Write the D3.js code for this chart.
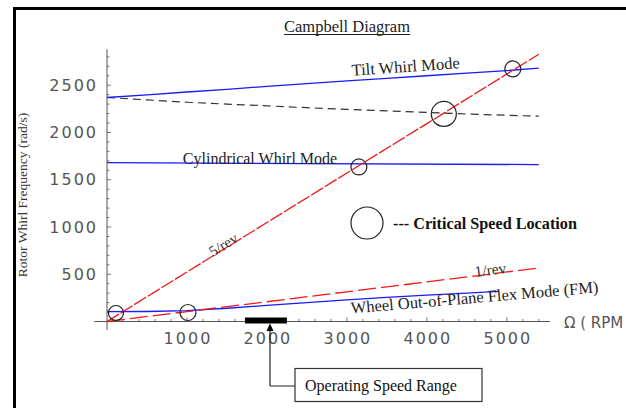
<!DOCTYPE html>
<html>
<head>
<meta charset="utf-8">
<script src="https://cdn.jsdelivr.net/npm/d3@7"></script>
<style>
  body { margin: 0; background: #fff; }
  svg { display: block; }
</style>
</head>
<body>
<svg id="chart" width="626" height="408"></svg>
<script>
// speeds (RPM) and modes (rad/s)
const rpm = [0, 500, 1000, 1500, 2000, 2500, 3000, 3500, 4000, 4500, 5000, 5400];
const tiltFwd = [2370, 2398, 2428, 2457, 2487, 2516, 2545, 2572, 2600, 2628, 2655, 2680];
const tiltBwd = [2370, 2345, 2320, 2300, 2282, 2262, 2245, 2228, 2212, 2195, 2182, 2172];
const cylRpm = [0, 5400];
const cylWhirl = [1680, 1660];
const flexRpm = [0, 500, 1000, 1500, 2000, 2500, 3000, 3500, 4000, 4500, 4900];
const flexMode = [105, 106, 115, 140, 170, 200, 228, 255, 278, 300, 318];
const excRpm = [0, 1000, 2000, 3000, 4000, 5000, 5400];
const rev5 = [0, 524, 1047, 1571, 2094, 2618, 2827];
const rev1 = [0, 105, 209, 314, 419, 524, 565];
const critRpm = [112, 1012, 3150, 4212, 5075];
const critVal = [90, 95, 1635, 2196, 2672];
const critR = [7.5, 8, 8, 12.5, 8];
const opRange = [1725, 2250];
const xTicks = [1000, 2000, 3000, 4000, 5000];
const yTicks = [500, 1000, 1500, 2000, 2500];

const svg = d3.select('#chart');

const x = d3.scaleLinear().domain([0, 5540]).range([107, 550]);
const y = d3.scaleLinear().domain([0, 2880]).range([321.5, 49.3]);

// frame
svg.append('line').attr('x1', 13).attr('x2', 626).attr('y1', 8.5).attr('y2', 8.5)
  .attr('stroke', '#000').attr('stroke-width', 3);
svg.append('line').attr('x1', 14.5).attr('x2', 14.5).attr('y1', 7).attr('y2', 408)
  .attr('stroke', '#000').attr('stroke-width', 3);

// axes (Mathematica style, ticks on the inside)
const axisCol = '#555';
svg.append('line').attr('x1', x(-160)).attr('x2', x(5540)).attr('y1', y(0)).attr('y2', y(0))
  .attr('stroke', axisCol).attr('stroke-width', 1);
svg.append('line').attr('x1', x(0)).attr('x2', x(0)).attr('y1', y(-90)).attr('y2', y(2880))
  .attr('stroke', axisCol).attr('stroke-width', 1);

d3.range(200, 5540, 200).forEach(v => {
  const major = v % 1000 === 0;
  svg.append('line').attr('x1', x(v)).attr('x2', x(v))
    .attr('y1', y(0)).attr('y2', y(0) - (major ? 4 : 2.5))
    .attr('stroke', axisCol).attr('stroke-width', 0.8);
});
d3.range(100, 2880, 100).forEach(v => {
  const major = v % 500 === 0;
  svg.append('line').attr('x1', x(0)).attr('x2', x(0) + (major ? 4 : 2.5))
    .attr('y1', y(v)).attr('y2', y(v))
    .attr('stroke', axisCol).attr('stroke-width', 0.8);
});

const tickFont = '"DejaVu Sans", sans-serif';
svg.selectAll('.ylab').data(yTicks).enter().append('text')
  .attr('x', 98).attr('y', d => y(d)).attr('dy', '0.36em')
  .attr('text-anchor', 'end')
  .style('font-family', tickFont).style('font-size', '16px')
  .style('letter-spacing', '2px').attr('fill', '#555')
  .text(d => d);

svg.selectAll('.xlab').data(xTicks).enter().append('text')
  .attr('x', d => x(d) + 1).attr('y', 338.5).attr('dy', '0.36em')
  .attr('text-anchor', 'middle')
  .style('font-family', tickFont).style('font-size', '16px')
  .style('letter-spacing', '2px').attr('fill', '#555')
  .text(d => d);

svg.append('text').attr('x', 564).attr('y', 323).attr('dy', '0.36em')
  .style('font-family', tickFont).style('font-size', '15px')
  .attr('fill', '#555')
  .text('\u03A9 ( RPM');

// y axis title
svg.append('text')
  .attr('transform', 'translate(27,195) rotate(-90)')
  .attr('text-anchor', 'middle')
  .style('font-family', '"Liberation Serif", serif').style('font-size', '13.5px')
  .attr('fill', '#333')
  .text('Rotor Whirl Frequency (rad/s)');

// title, underlined
const title = svg.append('text').attr('x', 347).attr('y', 32)
  .attr('text-anchor', 'middle')
  .style('font-family', '"Liberation Serif", serif').style('font-size', '16.5px')
  .attr('fill', '#222')
  .text('Campbell Diagram');
const tw = title.node().getComputedTextLength();
svg.append('line').attr('x1', 347 - tw / 2).attr('x2', 347 + tw / 2)
  .attr('y1', 34.5).attr('y2', 34.5).attr('stroke', '#222').attr('stroke-width', 1);

// mode lines
const line = d3.line().x(d => x(d[0])).y(d => y(d[1]));
const zip = (a, b) => a.map((v, i) => [v, b[i]]);

svg.append('path').attr('d', line(zip(rpm, tiltBwd)))
  .attr('fill', 'none').attr('stroke', '#333').attr('stroke-width', 1.2)
  .attr('stroke-dasharray', '8,5');
svg.append('path').attr('d', line(zip(rpm, tiltFwd)))
  .attr('fill', 'none').attr('stroke', '#1a1aff').attr('stroke-width', 1.3);
svg.append('path').attr('d', line(zip(cylRpm, cylWhirl)))
  .attr('fill', 'none').attr('stroke', '#1a1aff').attr('stroke-width', 1.3);
svg.append('path').attr('d', line(zip(flexRpm, flexMode)))
  .attr('fill', 'none').attr('stroke', '#1a1aff').attr('stroke-width', 1.3);

// excitation lines
svg.append('path').attr('d', line(zip(excRpm, rev1)))
  .attr('fill', 'none').attr('stroke', '#f01818').attr('stroke-width', 1.3)
  .attr('stroke-dasharray', '18,5');
svg.append('path').attr('d', line(zip(excRpm, rev5)))
  .attr('fill', 'none').attr('stroke', '#f01818').attr('stroke-width', 1.3)
  .attr('stroke-dasharray', '14,2');

// critical speed circles
svg.selectAll('.crit').data(critRpm).enter().append('circle')
  .attr('cx', d => x(d)).attr('cy', (d, i) => y(critVal[i]))
  .attr('r', (d, i) => critR[i])
  .attr('fill', 'none').attr('stroke', '#222').attr('stroke-width', 1.2);

// labels on the curves
const serif = '"Liberation Serif", serif';
function label(txt, cx, cy, ang, size, opts = {}) {
  svg.append('text')
    .attr('transform', `translate(${cx},${cy}) rotate(${ang})`)
    .attr('text-anchor', 'middle')
    .style('font-family', serif).style('font-size', size + 'px')
    .style('font-weight', opts.bold ? 'bold' : 'normal')
    .attr('fill', opts.fill || '#222')
    .text(txt);
}
label('Tilt Whirl Mode', 406, 72, -4, 16.5);
label('Cylindrical Whirl Mode', 260, 164, 0, 16);
label('5/rev', 226, 249, -31.5, 15, { fill: '#333' });
label('1/rev', 491, 275, -7, 15.5, { fill: '#333' });
label('Wheel Out-of-Plane Flex Mode (FM)', 475, 303, -4.9, 16.5);

// legend for circles
svg.append('circle').attr('cx', 367).attr('cy', 223).attr('r', 16)
  .attr('fill', 'none').attr('stroke', '#222').attr('stroke-width', 1.2);
svg.append('text').attr('x', 393).attr('y', 228.5)
  .style('font-family', serif).style('font-size', '16.2px').style('font-weight', 'bold')
  .attr('fill', '#111')
  .text('--- Critical Speed Location');

// operating speed range bar + callout
svg.append('rect').attr('x', x(opRange[0])).attr('y', 317.5)
  .attr('width', x(opRange[1]) - x(opRange[0])).attr('height', 6)
  .attr('fill', '#000');
svg.append('path').attr('d', 'M270,386 L270,329 M270,386 L295,386')
  .attr('fill', 'none').attr('stroke', '#222').attr('stroke-width', 1.2);
svg.append('path').attr('d', 'M270,323.5 L266.5,331 L273.5,331 Z').attr('fill', '#000');
svg.append('rect').attr('x', 295).attr('y', 368.5).attr('width', 187).attr('height', 33)
  .attr('fill', '#fff').attr('stroke', '#333').attr('stroke-width', 1.2);
svg.append('text').attr('x', 305).attr('y', 390.5)
  .style('font-family', serif).style('font-size', '16px')
  .attr('fill', '#111')
  .text('Operating Speed Range');
</script>
</body>
</html>
